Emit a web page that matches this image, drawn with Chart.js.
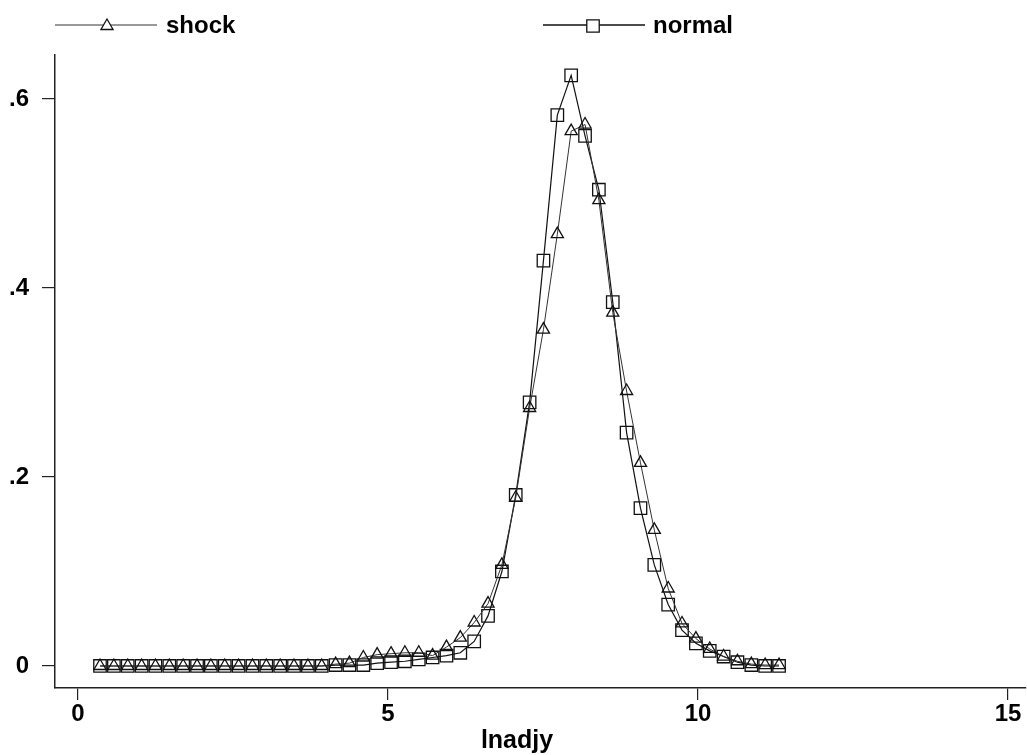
<!DOCTYPE html>
<html>
<head>
<meta charset="utf-8">
<title>shock vs normal</title>
<script src="https://cdn.jsdelivr.net/npm/chart.js@4.4.1/dist/chart.umd.min.js"></script>
<style>
    body { margin: 0; background: #fff; }
    #box { width: 1027px; height: 755px; }
</style>
</head>
<body>
<div id="box"><canvas id="densityChart"></canvas></div>
<script>
// grid of lnadjy where both densities were evaluated
const lnadjy = [
    0.355, 0.579, 0.802, 1.026, 1.249, 1.473, 1.696, 1.920, 2.143, 2.367,
    2.590, 2.814, 3.037, 3.261, 3.484, 3.708, 3.931, 4.155, 4.378, 4.602,
    4.825, 5.049, 5.272, 5.496, 5.719, 5.943, 6.166, 6.390, 6.613, 6.837,
    7.060, 7.284, 7.507, 7.731, 7.954, 8.178, 8.401, 8.625, 8.848, 9.072,
    9.295, 9.519, 9.742, 9.966, 10.189, 10.413, 10.636, 10.860, 11.083, 11.307
];

const shock = [
    0, 0, 0, 0, 0, 0, 0, 0, 0, 0,
    0, 0, 0, 0, 0, 0, 0, 0.002, 0.003, 0.009,
    0.012, 0.013, 0.014, 0.014, 0.011, 0.020, 0.030, 0.046, 0.066, 0.107,
    0.178, 0.273, 0.356, 0.457, 0.566, 0.573, 0.493, 0.374, 0.291, 0.215,
    0.144, 0.082, 0.045, 0.029, 0.018, 0.010, 0.005, 0.002, 0.001, 0.001
];

const normal = [
    0, 0, 0, 0, 0, 0, 0, 0, 0, 0,
    0, 0, 0, 0, 0, 0, 0, 0.001, 0.001, 0.001,
    0.003, 0.004, 0.005, 0.007, 0.009, 0.011, 0.014, 0.026, 0.053, 0.100,
    0.181, 0.279, 0.429, 0.583, 0.625, 0.561, 0.504, 0.385, 0.247, 0.167,
    0.107, 0.065, 0.038, 0.024, 0.016, 0.010, 0.004, 0.001, 0, 0
];

const xTicks = [0, 5, 10, 15];
const xTickLabels = ["0", "5", "10", "15"];
const yTicks = [0, 0.2, 0.4, 0.6];
const yTickLabels = ["0", ".2", ".4", ".6"];

const FONT = "'Liberation Sans', Arial, Helvetica, sans-serif";

function toPoints(ys) {
    return ys.map((y, i) => ({ x: lnadjy[i], y: y }));
}

function pickLabel(ticks, labels, value) {
    const idx = ticks.findIndex(t => Math.abs(t - value) < 1e-9);
    return idx >= 0 ? labels[idx] : "";
}

// stata style legend on top + x axis title
const stataLegend = {
    id: "stataLegend",
    afterDraw(chart) {
        const ctx = chart.ctx;
        const items = [
            { text: "shock", style: "triangle", radius: 7, x0: 55, x1: 157, mx: 107, tx: 166, color: "#333", lw: 1 },
            { text: "normal", style: "rect", radius: 8.8, x0: 543, x1: 645, mx: 593, tx: 653, color: "#111", lw: 1.3 }
        ];
        ctx.save();
        items.forEach(it => {
            ctx.strokeStyle = it.color;
            ctx.lineWidth = it.lw;
            ctx.beginPath();
            ctx.moveTo(it.x0, 25);
            ctx.lineTo(it.x1, 25);
            ctx.stroke();

            ctx.fillStyle = "#fff";
            ctx.strokeStyle = "#111";
            ctx.lineWidth = 1.3;
            Chart.helpers.drawPoint(ctx, { pointStyle: it.style, radius: it.radius, rotation: 0, borderWidth: 1.3 }, it.mx, 26);

            ctx.fillStyle = "#000";
            ctx.font = "bold 24px " + FONT;
            ctx.textAlign = "left";
            ctx.textBaseline = "alphabetic";
            ctx.fillText(it.text, it.tx, 33);
        });

        ctx.font = "bold 25px " + FONT;
        ctx.textAlign = "center";
        ctx.fillText("lnadjy", 517, 748);
        ctx.restore();
    }
};

new Chart("densityChart", {
    type: "line",
    data: {
        datasets: [
            {
                label: "shock",
                data: toPoints(shock),
                borderColor: "#333",
                borderWidth: 1,
                pointStyle: "triangle",
                pointRadius: 7,
                pointBorderWidth: 1.3,
                pointBorderColor: "#111",
                pointBackgroundColor: "rgba(255,255,255,0)",
                tension: 0
            },
            {
                label: "normal",
                data: toPoints(normal),
                borderColor: "#111",
                borderWidth: 1.2,
                pointStyle: "rect",
                pointRadius: 8.8,
                pointBorderWidth: 1.3,
                pointBorderColor: "#111",
                pointBackgroundColor: "rgba(255,255,255,0)",
                tension: 0
            }
        ]
    },
    options: {
        responsive: true,
        maintainAspectRatio: false,
        animation: false,
        events: [],
        layout: { autoPadding: false, padding: { top: 55, right: 1, left: 0, bottom: 0 } },
        plugins: {
            legend: { display: false },
            tooltip: { enabled: false }
        },
        scales: {
            x: {
                type: "linear",
                min: -0.371,
                max: 15.29,
                afterFit: (scale) => {
                    scale.height = 67;
                    scale.paddingLeft = 0;
                    scale.paddingRight = 0;
                },
                afterBuildTicks: (scale) => { scale.ticks = xTicks.map(v => ({ value: v })); },
                border: { display: true, color: "#222", width: 1.5 },
                grid: { display: true, drawOnChartArea: false, drawTicks: true, tickLength: 12, color: "#222", lineWidth: 1.2 },
                ticks: {
                    color: "#000",
                    padding: 0,
                    maxRotation: 0,
                    font: { family: FONT, size: 24, weight: "bold" },
                    callback: (value) => pickLabel(xTicks, xTickLabels, value)
                }
            },
            y: {
                type: "linear",
                min: -0.0233,
                max: 0.6466,
                afterFit: (scale) => {
                    scale.width = 55;
                    scale.paddingTop = 0;
                    scale.paddingBottom = 0;
                },
                afterBuildTicks: (scale) => { scale.ticks = yTicks.map(v => ({ value: v })); },
                border: { display: true, color: "#222", width: 1.5 },
                grid: { display: true, drawOnChartArea: false, drawTicks: true, tickLength: 13, color: "#222", lineWidth: 1.2 },
                ticks: {
                    color: "#000",
                    padding: 13,
                    font: { family: FONT, size: 24, weight: "bold" },
                    callback: (value) => pickLabel(yTicks, yTickLabels, value)
                }
            }
        }
    },
    plugins: [stataLegend]
});
</script>
</body>
</html>
